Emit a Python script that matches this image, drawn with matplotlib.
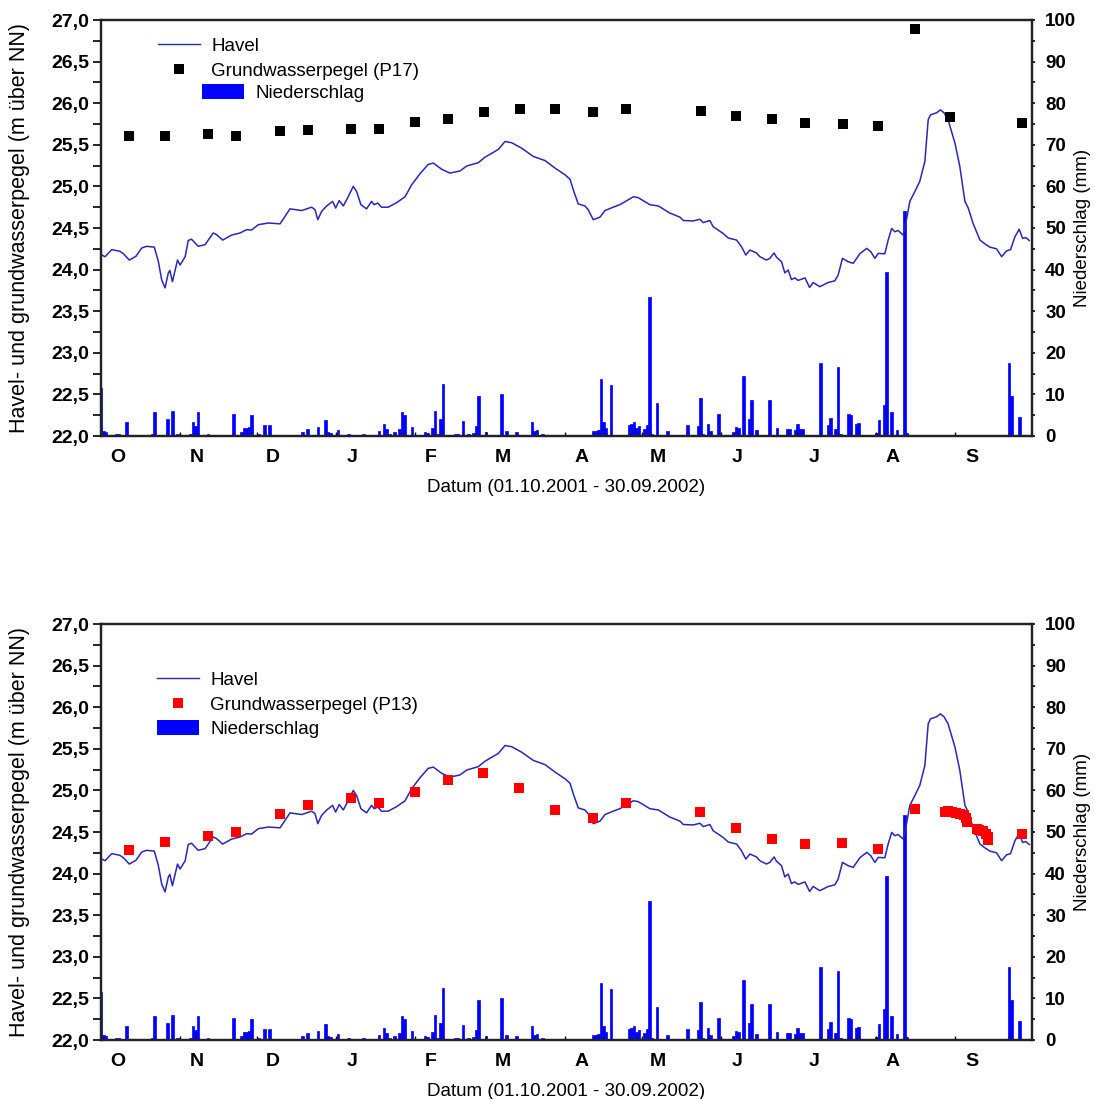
import matplotlib
matplotlib.use("Agg")
import matplotlib.pyplot as plt
from matplotlib.lines import Line2D
from matplotlib.patches import Patch
import numpy as np

plt.rcParams['font.family'] = ['Liberation Sans', 'DejaVu Sans']

# ---------------- data ----------------
# day index since 01.10.2001
havel_day = [0, 1.6, 4.2, 7.4, 8.8, 11.1, 13.7, 16, 17.9, 20.9, 22.5, 23.8, 25.1, 26.4, 27, 28, 30, 31, 33,
             34.2, 35.5, 38.1, 40.8, 44, 45.3, 47.7, 51.2, 54.5, 57.1, 59, 61.7, 65.6, 70.2, 74.1, 78.7, 82.6,
             83.9, 85, 86.5, 88.5, 90.8, 92, 93.4, 95, 96.9, 98.9, 100.2, 101.9, 104.1, 106.1, 107.1, 108.5,
             110, 112.6, 115.9, 119.2, 121.8, 125, 128.3, 130.3, 133.6, 136.8, 140.7, 143.4, 147.9, 150.5,
             155.8, 158.4, 161, 164.9, 169.5, 174.1, 178, 181.9, 183.9, 185.2, 187.1, 189.7, 191, 193, 195.6,
             197.6, 200.8, 203.4, 208.7, 210.6, 215.2, 218.5, 223, 227, 228.3, 232.2, 234.8, 236.1, 238.7,
             240, 243.9, 245.9, 249.2, 251.1, 252.8, 254.4, 257, 258.3, 260.9, 262.2, 263.9, 264.8, 266.8,
             268.1, 269.4, 270.7, 272, 273.3, 274.7, 276, 277.8, 279.2, 281.8, 285.1, 287.7, 289, 290.7,
             292.9, 294.9, 297.5, 300.2, 301.8, 303.4, 304.7, 307.3, 308.6, 310, 311.2, 312.5, 314.5, 315.8,
             317.1, 319.1, 321, 323, 324.3, 325.2, 327.6, 329.1, 330.5, 332.1, 334.8, 336.7, 338.7, 340,
             341.9, 344.6, 346.5, 348.5, 351.1, 353.1, 355, 356.6, 358.3, 360, 361.3, 362.6, 363.9]
havel_level = [24.18, 24.155, 24.24, 24.22, 24.19, 24.115, 24.16, 24.26, 24.28, 24.27, 24.095, 23.875, 23.78,
               23.96, 23.99, 23.855, 24.115, 24.055, 24.155, 24.35, 24.365, 24.28, 24.30, 24.44, 24.42,
               24.355, 24.415, 24.44, 24.48, 24.475, 24.54, 24.56, 24.55, 24.73, 24.71, 24.75, 24.72, 24.60,
               24.70, 24.765, 24.82, 24.74, 24.83, 24.765, 24.875, 25.0, 24.94, 24.78, 24.73, 24.82, 24.78,
               24.80, 24.75, 24.75, 24.805, 24.875, 25.02, 25.15, 25.265, 25.28, 25.205, 25.16, 25.185,
               25.245, 25.285, 25.35, 25.445, 25.54, 25.525, 25.46, 25.36, 25.31, 25.22, 25.14, 25.085,
               24.955, 24.79, 24.765, 24.72, 24.60, 24.63, 24.71, 24.75, 24.78, 24.875, 24.865, 24.78,
               24.765, 24.68, 24.63, 24.59, 24.585, 24.605, 24.565, 24.59, 24.515, 24.435, 24.38, 24.355,
               24.275, 24.175, 24.235, 24.20, 24.155, 24.115, 24.135, 24.20, 24.15, 24.095, 23.96, 23.995,
               23.88, 23.90, 23.87, 23.885, 23.90, 23.785, 23.845, 23.795, 23.845, 23.865, 23.935, 24.135,
               24.095, 24.075, 24.19, 24.255, 24.215, 24.135, 24.195, 24.19, 24.355, 24.495, 24.455, 24.47,
               24.415, 24.60, 24.82, 24.94, 25.06, 25.30, 25.80, 25.86, 25.885, 25.92, 25.885, 25.80, 25.52,
               25.24, 24.82, 24.74, 24.555, 24.355, 24.31, 24.27, 24.25, 24.155, 24.225, 24.24, 24.395,
               24.485, 24.375, 24.385, 24.35]

p17_day = [11.1, 25.1, 42.1, 52.9, 70, 81, 98, 109, 123.1, 135.9, 150, 164.1, 178.1, 192.9, 206, 235.1,
           248.9, 262.9, 276, 290.9, 304.8, 319, 333, 360.9]
p17_level = [25.61, 25.61, 25.63, 25.61, 25.66, 25.68, 25.69, 25.69, 25.77, 25.81, 25.90, 25.93, 25.93,
             25.90, 25.93, 25.91, 25.85, 25.81, 25.76, 25.75, 25.73, 26.89, 25.84, 25.76]

p13_day = [11.1, 25.1, 42, 52.9, 70, 81, 98, 109, 123, 135.9, 149.9, 164, 178, 192.9, 205.8, 234.8, 248.9,
           262.9, 276, 290.7, 304.7, 319, 330.9, 332.1, 333.5, 335.4, 336.7, 338.3, 339.1, 339.6, 343.3,
           344.3, 345.6, 346.9, 347.6, 347.8, 360.9]
p13_level = [24.28, 24.38, 24.45, 24.50, 24.72, 24.83, 24.91, 24.85, 24.98, 25.13, 25.21, 25.03, 24.77,
             24.67, 24.85, 24.74, 24.55, 24.42, 24.36, 24.37, 24.30, 24.78, 24.74, 24.75, 24.74, 24.73,
             24.72, 24.70, 24.67, 24.62, 24.54, 24.53, 24.51, 24.48, 24.44, 24.40, 24.47]

rain_day = [0, 1, 2, 6, 7, 10, 16, 20, 21, 22, 23, 24, 26, 28, 30, 35, 36, 37, 38, 42, 52, 55, 56, 57, 58,
            59, 62, 64, 66, 72, 79, 81, 85, 88, 89, 90, 93, 97, 102, 103, 109, 111, 112, 113, 115, 117, 118,
            119, 122, 127, 128, 130, 131, 132, 133, 134, 139, 140, 142, 144, 146, 147, 148, 151, 155, 157,
            159, 163, 164, 169, 170, 171, 173, 193, 194, 195, 196, 197, 198, 200, 205, 207, 208, 209, 210,
            211, 213, 214, 215, 216, 218, 222, 225, 230, 234, 235, 236, 238, 239, 242, 248, 249, 250, 252,
            254, 255, 257, 262, 265, 269, 270, 272, 273, 274, 275, 279, 282, 285, 286, 288, 289, 290, 293,
            294, 296, 297, 304, 305, 307, 308, 310, 312, 315, 316, 348, 349, 353, 356, 357, 358, 360]
rain_mm = [11.5, 1.3, 1.0, 0.6, 0.6, 3.4, 0.25, 0.6, 5.7, 0.2, 0.2, 0.2, 4.0, 6.0, 0.6, 0.5, 3.4, 2.4, 5.7,
           0.4, 5.2, 1.0, 2.0, 2.0, 2.2, 5.0, 0.6, 2.6, 2.6, 0.2, 1.0, 1.6, 2.2, 3.8, 1.0, 0.8, 1.4, 0.5,
           0.3, 0.6, 1.2, 3.0, 1.8, 0.5, 1.0, 1.6, 5.8, 5.0, 2.1, 0.9, 0.7, 1.9, 6.0, 0.6, 4.1, 12.4, 0.4,
           0.6, 3.6, 0.6, 0.8, 2.5, 9.7, 0.9, 0.2, 10.2, 1.1, 0.9, 0.2, 3.4, 1.3, 1.4, 0.4, 1.2, 1.2, 1.4,
           13.6, 3.3, 2.0, 12.2, 0.2, 2.6, 2.8, 3.3, 2.0, 2.5, 1.6, 2.6, 33.4, 0.6, 7.9, 1.3, 0.2, 2.6,
           2.3, 9.1, 0.4, 3.0, 1.3, 5.4, 1.0, 2.1, 2.0, 14.4, 4.2, 8.7, 1.4, 8.7, 2.0, 1.8, 1.6, 1.4, 2.8,
           1.8, 1.8, 0.2, 17.6, 2.6, 4.4, 1.6, 16.7, 0.4, 5.2, 5.0, 3.0, 3.1, 0.8, 3.8, 7.5, 39.4, 5.7,
           1.4, 54.2, 0.8, 0.2, 0.2, 0.3, 17.6, 9.6, 0.3, 4.6]

month_labels = ['O', 'N', 'D', 'J', 'F', 'M', 'A', 'M', 'J', 'J', 'A', 'S']
month_lengths = [31, 30, 31, 31, 28, 31, 30, 31, 30, 31, 31, 30]
left_ticks = [22.0, 22.5, 23.0, 23.5, 24.0, 24.5, 25.0, 25.5, 26.0, 26.5, 27.0]
right_ticks = [0, 10, 20, 30, 40, 50, 60, 70, 80, 90, 100]

# ---------------- style ----------------
LINE_C = '#2828b4'
BAR_C = '#0000ff'
FS_TICK = 14
FS_LAB = 13.5

month_start = np.concatenate([[0], np.cumsum(month_lengths)[:-1]])
label_pos = month_start + 6.4

fig = plt.figure(figsize=(10.95, 10.99), dpi=100)
W, H = 1095.0, 1099.0


def make_panel(top_px, gw_day, gw_level, gw_color, gw_label, split_legend):
    left, right, bottom = 101, 1032, top_px + 416
    ax = fig.add_axes([left / W, 1 - bottom / H, (right - left) / W, 416 / H])
    ax2 = ax.twinx()
    ax.set_zorder(2)
    ax2.set_zorder(1)
    ax.patch.set_visible(False)

    ax2.bar(rain_day, rain_mm, width=1.0, color=BAR_C, edgecolor=BAR_C, linewidth=0.5, align='center')
    ax.plot(havel_day, havel_level, color=LINE_C, lw=1.1)
    ax.plot(gw_day, gw_level, 's', color=gw_color, markersize=7.5, markeredgewidth=0, linestyle='none')

    ax.set_xlim(0, 365)
    ax.set_ylim(22, 27)
    ax2.set_ylim(0, 100)

    ax.set_yticks(left_ticks)
    ax.set_yticklabels([f"{v:.1f}".replace('.', ',') for v in left_ticks],
                       fontsize=FS_TICK, fontweight='bold')
    ax.set_yticks(np.arange(22.25, 27, 0.5), minor=True)
    ax.tick_params(axis='y', which='both', direction='out', length=5.5, width=1.2, pad=3)

    ax2.set_yticks(right_ticks)
    ax2.set_yticklabels([str(v) for v in right_ticks], fontsize=13.5, fontweight='bold')
    ax2.set_yticks(np.arange(5, 100, 10), minor=True)
    ax2.tick_params(axis='y', which='both', direction='out', length=2.5, width=1.2, pad=7)

    ax.set_xticks(label_pos)
    ax.set_xticklabels(month_labels, fontsize=FS_TICK, fontweight='bold')
    ax.set_xticks(month_start[1:], minor=True)
    ax.tick_params(axis='x', which='major', length=0, pad=9)
    ax.tick_params(axis='x', which='minor', direction='in', length=3, width=1)
    ax2.tick_params(axis='x', which='both', length=0)

    for a in (ax, ax2):
        for s in a.spines.values():
            s.set_linewidth(1.6)
            s.set_color('#222222')

    ax.set_ylabel('Havel- und grundwasserpegel (m über NN)', fontsize=15.5)
    ax.yaxis.set_label_coords((30 - 101) / 931, 0.5)
    ax2.set_ylabel('Niederschlag (mm)', fontsize=13.5, rotation=90)
    ax2.yaxis.set_label_coords((1074 - 101) / 931, 0.5)
    ax.set_xlabel('Datum (01.10.2001 - 30.09.2002)', fontsize=FS_LAB, labelpad=10)

    h_line = Line2D([], [], color=LINE_C, lw=1.0)
    h_mark = Line2D([], [], marker='s', color=gw_color, markersize=7.5, markeredgewidth=0, linestyle='none')
    h_bar = Patch(facecolor=BAR_C, edgecolor='none')

    common = dict(frameon=False, fontsize=FS_LAB, borderpad=0, borderaxespad=0,
                  handlelength=2.25, handletextpad=0.6, loc='upper left')
    if split_legend:
        leg1 = ax.legend([h_line, h_mark], ['Havel', gw_label], labelspacing=0.42,
                         bbox_to_anchor=(0.0612, 0.958), **common)
        ax.add_artist(leg1)
        ax.legend([h_bar], ['Niederschlag'], handleheight=0.85,
                  bbox_to_anchor=(0.1085, 0.846), **common)
    else:
        ax.legend([h_line, h_mark, h_bar], ['Havel', gw_label, 'Niederschlag'], labelspacing=0.36,
                  handleheight=0.85, bbox_to_anchor=(0.0602, 0.887), **common)
    return ax, ax2


make_panel(20, p17_day, p17_level, 'black', 'Grundwasserpegel (P17)', True)
make_panel(624, p13_day, p13_level, '#ff0000', 'Grundwasserpegel (P13)', False)

fig.savefig('out.png', dpi=100)
